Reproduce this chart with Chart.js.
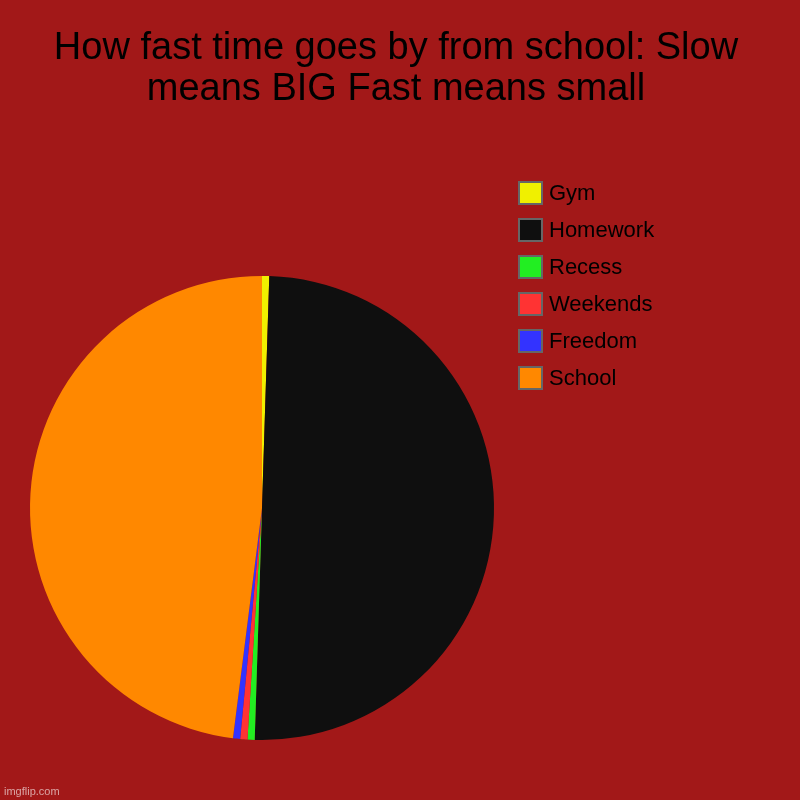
<!DOCTYPE html>
<html>
<head>
<meta charset="utf-8">
<script src="https://cdn.jsdelivr.net/npm/chart.js@4.4.1/dist/chart.umd.min.js"></script>
<style>
  html, body { margin: 0; padding: 0; background: #a21818; }
  #wrap { position: relative; width: 800px; height: 800px; overflow: hidden; font-family: "Liberation Sans", Arial, sans-serif; }
  #myChart { position: absolute; left: 0; top: 0; }
  #title { position: absolute; left: 0; top: 26px; width: 792px; text-align: center; font-size: 38px; line-height: 41px; color: #000; }
  #legend { position: absolute; left: 518px; top: 181px; margin: 0; padding: 0; list-style: none; }
  #legend li { display: flex; align-items: center; height: 24px; margin-bottom: 13px; font-size: 22px; line-height: 24px; color: #000; }
  #legend .box { box-sizing: border-box; width: 25px; height: 24px; border: 2px solid #666; margin-right: 6px; }
  #mark { position: absolute; left: 4px; bottom: 3px; font-size: 11px; color: rgba(255,255,255,0.6); }
</style>
</head>
<body>
<div id="wrap">
  <canvas id="myChart" width="800" height="800"></canvas>
  <div id="title"></div>
  <ul id="legend"></ul>
  <div id="mark">imgflip.com</div>
</div>
<script>
const labels = ['Gym', 'Homework', 'Recess', 'Weekends', 'Freedom', 'School'];
const values = [1, 100, 1, 1, 1, 96];
const colors = ['#f0f000', '#0f0f0f', '#22ee22', '#ff3333', '#3333ff', '#ff8800'];
const titleLines = ['How fast time goes by from school: Slow', 'means BIG Fast means small'];

Chart.defaults.font.family = '"Liberation Sans", Arial, sans-serif';

document.getElementById('title').innerHTML = titleLines.join('<br>');

// legend drawn as html list from the chart's own legend items
const htmlLegend = {
    id: 'htmlLegend',
    afterUpdate(chart) {
        const ul = document.getElementById('legend');
        ul.innerHTML = '';
        const items = chart.options.plugins.legend.labels.generateLabels(chart);
        items.forEach(item => {
            const li = document.createElement('li');
            const box = document.createElement('span');
            box.className = 'box';
            box.style.background = item.fillStyle;
            const txt = document.createElement('span');
            txt.textContent = item.text;
            li.appendChild(box);
            li.appendChild(txt);
            ul.appendChild(li);
        });
    }
};

const data = {
    labels: labels,
    datasets: [{
        data: values,
        backgroundColor: colors,
        borderWidth: 0
    }]
};

const config = {
    type: 'pie',
    data: data,
    options: {
        responsive: false,
        animation: false,
        layout: {
            padding: { left: 30, right: 306, top: 276, bottom: 60 }
        },
        plugins: {
            title: { display: false },
            legend: { display: false },
            tooltip: { enabled: false }
        }
    },
    plugins: [htmlLegend]
};

let pieCanvas = document.getElementById('myChart');
var myChart = new Chart(pieCanvas, config);
</script>
</body>
</html>
